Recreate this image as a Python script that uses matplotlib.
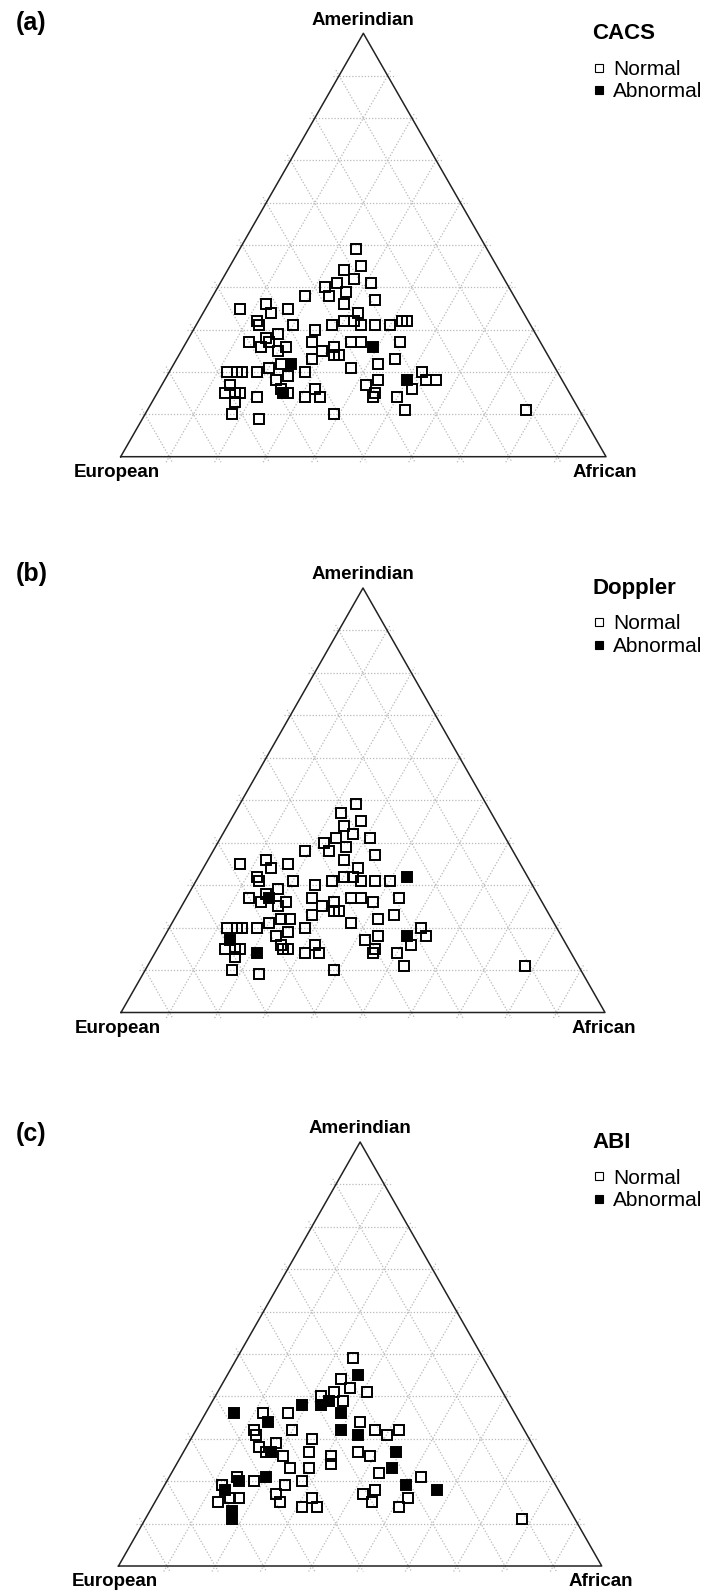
import numpy as np
import matplotlib.pyplot as plt
from matplotlib.lines import Line2D

plt.rcParams['font.family'] = ['Liberation Sans', 'DejaVu Sans']

#
# Ancestry proportions (%)
# status: 0 = Normal, 1 = Abnormal
#

# (a) CACS
cacs_amer = [49, 45, 44, 42, 41, 41, 40, 38, 39, 36, 37, 38, 35, 36, 34, 35, 32, 31, 31, 32,
             32, 34, 31, 31, 31, 32, 32, 31, 30, 27, 28, 27, 29, 26, 26, 27, 25, 23, 26, 24,
             24, 27, 27, 26, 27, 23, 22, 25, 22, 22, 19, 21, 20, 20, 21, 20, 20, 20, 18, 16,
             15, 15, 14, 15, 15, 15, 17, 13, 10, 9, 14, 16, 14, 10, 17, 18, 15, 14, 18, 20,
             18, 18, 16, 14, 11, 11]
cacs_afr = [24, 27, 24, 27, 31, 24, 22, 24, 27, 28, 34, 19, 7, 12, 14, 17, 12, 13, 20, 30,
            32, 32, 34, 37, 40, 42, 43, 28, 25, 13, 16, 17, 18, 16, 21, 26, 29, 28, 31, 33,
            32, 34, 36, 39, 44, 45, 42, 20, 24, 22, 25, 20, 18, 28, 37, 12, 14, 15, 23, 25,
            26, 27, 21, 14, 16, 17, 14, 17, 18, 24, 31, 32, 34, 39, 42, 44, 45, 45, 50, 52,
            54, 56, 52, 50, 53, 78]
cacs_eur = [27, 28, 32, 31, 28, 35, 38, 38, 34, 36, 29, 43, 58, 52, 52, 48, 56, 56, 49, 38,
            36, 34, 35, 32, 29, 26, 25, 41, 45, 60, 56, 56, 53, 58, 53, 47, 46, 49, 43, 43,
            44, 39, 37, 35, 29, 32, 36, 55, 54, 56, 56, 59, 62, 52, 42, 68, 66, 65, 59, 59,
            59, 58, 65, 71, 69, 68, 69, 70, 72, 67, 55, 52, 52, 51, 41, 38, 40, 41, 32, 28,
            28, 26, 32, 36, 36, 11]
cacs_status = [0, 0, 0, 0, 0, 0, 0, 0, 0, 0, 0, 0, 0, 0, 0, 0, 0, 0, 0, 0,
               0, 0, 0, 0, 0, 0, 0, 0, 0, 0, 0, 0, 0, 0, 0, 0, 0, 0, 0, 0,
               0, 0, 0, 1, 0, 0, 0, 0, 1, 0, 0, 0, 0, 0, 0, 0, 0, 0, 0, 0,
               1, 0, 0, 0, 0, 0, 0, 0, 0, 0, 0, 0, 0, 0, 0, 0, 0, 0, 1, 0,
               0, 0, 0, 0, 0, 0]

# (b) Doppler
doppler_amer = [49, 47, 45, 44, 42, 41, 41, 40, 38, 39, 36, 37, 38, 35, 36, 34, 35, 32, 31, 31,
                32, 32, 34, 31, 31, 31, 32, 31, 30, 27, 28, 27, 29, 26, 26, 27, 25, 23, 26, 24,
                24, 27, 27, 26, 27, 23, 22, 25, 22, 22, 19, 21, 20, 20, 21, 20, 20, 20, 18, 16,
                15, 15, 14, 15, 15, 15, 17, 13, 10, 9, 14, 16, 14, 10, 17, 18, 15, 14, 18, 20,
                18, 16, 14, 11, 11]
doppler_afr = [24, 22, 27, 24, 27, 31, 24, 22, 24, 27, 28, 34, 19, 7, 12, 14, 17, 12, 13, 20,
               30, 32, 32, 34, 37, 40, 43, 28, 25, 13, 16, 17, 18, 16, 21, 26, 29, 28, 31, 33,
               32, 34, 36, 39, 44, 45, 42, 20, 24, 22, 25, 20, 18, 28, 37, 12, 14, 15, 23, 25,
               26, 27, 21, 14, 16, 17, 14, 17, 18, 24, 31, 32, 34, 39, 42, 44, 45, 45, 50, 52,
               54, 52, 50, 53, 78]
doppler_eur = [27, 31, 28, 32, 31, 28, 35, 38, 38, 34, 36, 29, 43, 58, 52, 52, 48, 56, 56, 49,
               38, 36, 34, 35, 32, 29, 25, 41, 45, 60, 56, 56, 53, 58, 53, 47, 46, 49, 43, 43,
               44, 39, 37, 35, 29, 32, 36, 55, 54, 56, 56, 59, 62, 52, 42, 68, 66, 65, 59, 59,
               59, 58, 65, 71, 69, 68, 69, 70, 72, 67, 55, 52, 52, 51, 41, 38, 40, 41, 32, 28,
               28, 32, 36, 36, 11]
doppler_status = [0, 0, 0, 0, 0, 0, 0, 0, 0, 0, 0, 0, 0, 0, 0, 0, 0, 0, 0, 0,
                  0, 0, 0, 0, 0, 0, 1, 0, 0, 0, 0, 1, 0, 0, 0, 0, 0, 0, 0, 0,
                  0, 0, 0, 0, 0, 0, 0, 0, 0, 0, 0, 0, 0, 0, 0, 0, 0, 0, 0, 0,
                  0, 0, 1, 0, 0, 0, 1, 0, 0, 0, 0, 0, 0, 0, 0, 0, 0, 0, 1, 0,
                  0, 0, 0, 0, 0]

# (c) ABI
abi_amer = [49, 45, 44, 42, 41, 41, 40, 39, 38, 39, 36, 38, 36, 36, 34, 36, 32, 31, 32, 32,
            34, 31, 32, 31, 32, 30, 27, 26, 24, 28, 27, 29, 27, 26, 23, 23, 27, 26, 27, 23,
            22, 21, 20, 20, 21, 19, 18, 19, 20, 17, 15, 16, 16, 13, 11, 15, 14, 16, 14, 17,
            18, 15, 14, 16, 19, 21, 18, 11]
abi_afr = [24, 27, 24, 27, 31, 24, 22, 24, 23, 27, 28, 19, 6, 12, 14, 17, 12, 13, 20, 30,
           33, 34, 37, 40, 42, 25, 26, 31, 32, 15, 18, 18, 17, 21, 24, 28, 36, 39, 44, 45,
           43, 20, 18, 15, 14, 12, 13, 25, 28, 24, 13, 15, 17, 17, 18, 26, 31, 32, 34, 42,
           44, 45, 51, 52, 50, 52, 57, 78]
abi_eur = [27, 28, 32, 31, 28, 35, 38, 37, 39, 34, 36, 43, 58, 52, 52, 47, 56, 56, 48, 38,
           33, 35, 31, 29, 26, 45, 47, 43, 44, 57, 55, 53, 56, 53, 53, 49, 37, 35, 29, 32,
           35, 59, 62, 65, 65, 69, 69, 56, 52, 59, 72, 69, 67, 70, 71, 59, 55, 52, 52, 41,
           38, 40, 35, 32, 31, 27, 25, 11]
abi_status = [0, 1, 0, 0, 0, 0, 0, 1, 1, 0, 1, 1, 1, 0, 1, 0, 0, 0, 0, 1,
              0, 1, 0, 0, 0, 0, 0, 0, 0, 0, 1, 0, 0, 0, 0, 0, 0, 0, 1, 1,
              0, 1, 0, 1, 0, 0, 1, 0, 0, 0, 0, 0, 0, 1, 1, 0, 0, 0, 0, 0,
              0, 0, 0, 0, 1, 0, 1, 0]

vertex_labels = ['European', 'Amerindian', 'African']
legend_labels = ['Normal', 'Abnormal']

# figure size in px and triangle placement of each panel (px, y from top)
W, H = 708, 1593
panels = [
    ('(a)', 23, 'CACS', cacs_eur, cacs_amer, cacs_afr, cacs_status, (120.7, 606.0, 456.7, 33.3)),
    ('(b)', 574, 'Doppler', doppler_eur, doppler_amer, doppler_afr, doppler_status, (121.0, 605.0, 1012.5, 588.0)),
    ('(c)', 1134, 'ABI', abi_eur, abi_amer, abi_afr, abi_status, (118.5, 601.7, 1566.0, 1142.0)),
]

S = np.sqrt(3) / 2


def tern(eur, amer, afr):
    eur, amer, afr = (np.asarray(v, dtype=float) for v in (eur, amer, afr))
    tot = eur + amer + afr
    return (afr + amer / 2) / tot, amer / tot * S


fig = plt.figure(figsize=(W / 100, H / 100), dpi=100)

for tag, tag_y, title, eur, amer, afr, status, (left, right, base, apex) in panels:
    ax = fig.add_axes([left / W, 1 - base / H, (right - left) / W, (base - apex) / H])
    ax.set_xlim(0, 1)
    ax.set_ylim(0, S)
    ax.axis('off')

    # dotted grid every 10 %, a little longer than the triangle (tick marks)
    for k in range(1, 10):
        f = k / 10
        for a, b in [((1 - f, f, 0), (0, f, 1 - f)),
                     ((1 - f, 0, f), (0, 1 - f, f)),
                     ((f, 1 - f, 0), (f, 0, 1 - f))]:
            p = np.array(tern(*a))
            q = np.array(tern(*b))
            d = (q - p) / np.hypot(*(q - p)) * 0.013
            p, q = p - d, q + d
            ax.plot([p[0], q[0]], [p[1], q[1]], color='#b9b9b9', lw=0.9,
                    ls=(0, (1, 1.5)), clip_on=False, zorder=1)

    ax.plot([0, 1, 0.5, 0], [0, 0, S, 0], color='#222222', lw=1.1,
            clip_on=False, zorder=2)

    x, y = tern(eur, amer, afr)
    st = np.asarray(status) == 1
    ax.plot(x[~st], y[~st], 's', ms=7.1, mfc='none', mec='black', mew=1.4,
            clip_on=False, zorder=3)
    ax.plot(x[st], y[st], 's', ms=7.1, mfc='black', mec='black', mew=1.4,
            clip_on=False, zorder=4)

    lab = dict(textcoords='offset points', ha='center', va='center',
               fontsize=13.5, fontweight='bold')
    ax.annotate(vertex_labels[1], xy=(0.5, S), xytext=(0, 9.4), **lab)
    ax.annotate(vertex_labels[0], xy=(0, 0), xytext=(-2.5, -11.5), **lab)
    ax.annotate(vertex_labels[2], xy=(1, 0), xytext=(-1, -11.5), **lab)

    fig.text(16 / W, 1 - tag_y / H, tag, fontsize=18, fontweight='bold',
             ha='left', va='center')

    fig.text(592 / W, 1 - apex / H, title, fontsize=16, fontweight='bold',
             ha='left', va='center')
    handles = [Line2D([], [], ls='', marker='s', ms=6, mfc='white', mec='black', mew=0.8),
               Line2D([], [], ls='', marker='s', ms=6, mfc='black', mec='black', mew=0.8)]
    ax.legend(handles, legend_labels, loc='upper left',
              bbox_to_anchor=(593 / W, 1 - (apex + 26.5) / H),
              bbox_transform=fig.transFigure, frameon=False, borderpad=0,
              borderaxespad=0, handlelength=0.6, handletextpad=0.35,
              labelspacing=0.16, fontsize=15)

plt.savefig('out.png', dpi=100)
plt.close()
